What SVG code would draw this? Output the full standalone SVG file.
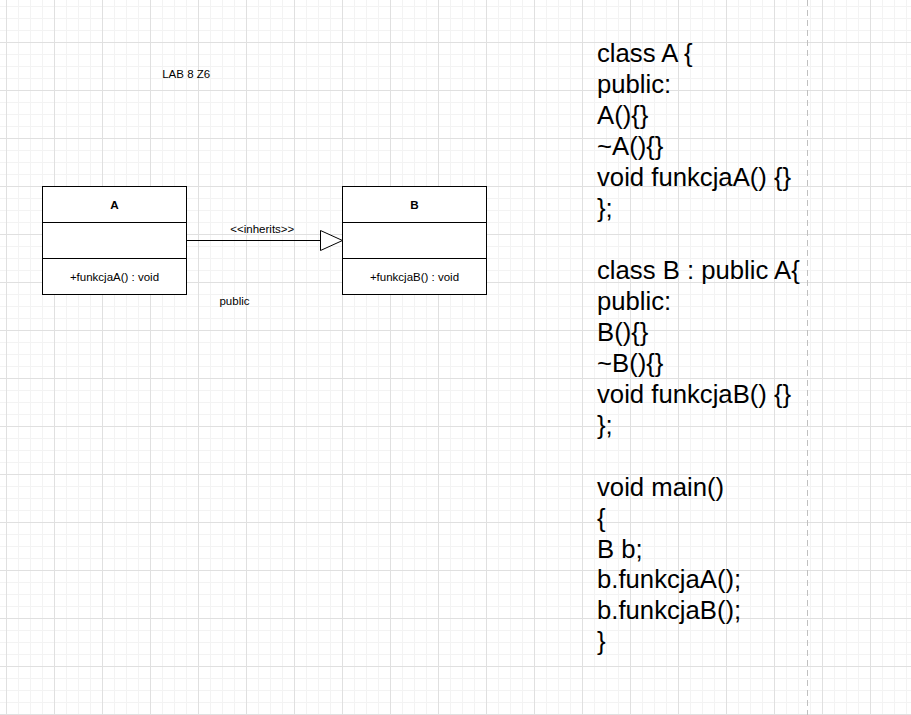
<svg xmlns="http://www.w3.org/2000/svg" width="911" height="715" viewBox="0 0 911 715">
  <defs>
    <pattern id="grid" x="6" y="42" width="48" height="48" patternUnits="userSpaceOnUse">
      <rect x="0" y="0" width="48" height="48" fill="#ffffff"/>
      <rect x="12" y="0" width="1" height="48" fill="#f3f3f3"/>
      <rect x="24" y="0" width="1" height="48" fill="#f3f3f3"/>
      <rect x="36" y="0" width="1" height="48" fill="#f3f3f3"/>
      <rect x="0" y="12" width="48" height="1" fill="#f3f3f3"/>
      <rect x="0" y="24" width="48" height="1" fill="#f3f3f3"/>
      <rect x="0" y="36" width="48" height="1" fill="#f3f3f3"/>
      <rect x="0" y="0" width="1" height="48" fill="#e0e0e0"/>
      <rect x="0" y="0" width="48" height="1" fill="#e0e0e0"/>
    </pattern>
    <marker id="inherit" viewBox="0 0 24 22" markerWidth="24" markerHeight="22" refX="23" refY="11" markerUnits="userSpaceOnUse" orient="auto">
      <path d="M1,1 L23,11 L1,21 Z" fill="#ffffff" stroke="#000000" stroke-width="1"/>
    </marker>
  </defs>
  <style>
    .box { fill: #ffffff; stroke: #000000; stroke-width: 1; }
    .sep { stroke: #000000; stroke-width: 1; fill: none; }
    .small { font-family: "Liberation Sans", Arial, sans-serif; font-size: 11.5px; fill: #000000; }
    .title { font-family: "Liberation Sans", Arial, sans-serif; font-size: 11.7px; font-weight: bold; fill: #000000; }
    .code { font-family: "Liberation Sans", Arial, sans-serif; font-size: 25.7px; fill: #000000; }
  </style>

  <rect x="0" y="0" width="911" height="715" fill="url(#grid)"/>
  <line x1="807.5" y1="0" x2="807.5" y2="715" stroke="#c0c0c0" stroke-width="1" stroke-dasharray="6,4"/>

  <g id="label-lab">
    <text class="small" x="186.2" y="77.5" text-anchor="middle">LAB 8 Z6</text>
  </g>

  <g id="class-A">
    <rect class="box" x="42.5" y="186.5" width="144" height="108"/>
    <line class="sep" x1="42.5" y1="222.5" x2="186.5" y2="222.5"/>
    <line class="sep" x1="42.5" y1="258.5" x2="186.5" y2="258.5"/>
    <text class="title" x="114.5" y="209" text-anchor="middle">A</text>
    <text class="small" x="114.5" y="281" text-anchor="middle">+funkcjaA() : void</text>
  </g>

  <g id="class-B">
    <rect class="box" x="342.5" y="186.5" width="144" height="108"/>
    <line class="sep" x1="342.5" y1="222.5" x2="486.5" y2="222.5"/>
    <line class="sep" x1="342.5" y1="258.5" x2="486.5" y2="258.5"/>
    <text class="title" x="414.5" y="209" text-anchor="middle">B</text>
    <text class="small" x="414.5" y="281" text-anchor="middle">+funkcjaB() : void</text>
  </g>

  <g id="connectors">
    <line x1="186.5" y1="240.5" x2="342.5" y2="240.5" stroke="#000000" stroke-width="1" marker-end="url(#inherit)"/>
    <text class="small" x="262.3" y="233.3" text-anchor="middle">&lt;&lt;inherits&gt;&gt;</text>
    <text class="small" x="234.5" y="305" text-anchor="middle">public</text>
  </g>

  <g id="code">
    <text class="code" x="597">
      <tspan x="597" y="62.3">class A {</tspan>
      <tspan x="597" y="93.2">public:</tspan>
      <tspan x="597" y="124.2">A(){}</tspan>
      <tspan x="597" y="155.1">~A(){}</tspan>
      <tspan x="597" y="186.1">void funkcjaA() {}</tspan>
      <tspan x="597" y="217">};</tspan>
      <tspan x="597" y="278.9">class B : public A{</tspan>
      <tspan x="597" y="309.9">public:</tspan>
      <tspan x="597" y="340.8">B(){}</tspan>
      <tspan x="597" y="371.8">~B(){}</tspan>
      <tspan x="597" y="402.7">void funkcjaB() {}</tspan>
      <tspan x="597" y="433.7">};</tspan>
      <tspan x="597" y="495.6">void main()</tspan>
      <tspan x="597" y="526.5">{</tspan>
      <tspan x="597" y="557.5">B b;</tspan>
      <tspan x="597" y="588.4">b.funkcjaA();</tspan>
      <tspan x="597" y="619.4">b.funkcjaB();</tspan>
      <tspan x="597" y="650.3">}</tspan>
    </text>
  </g>
</svg>
